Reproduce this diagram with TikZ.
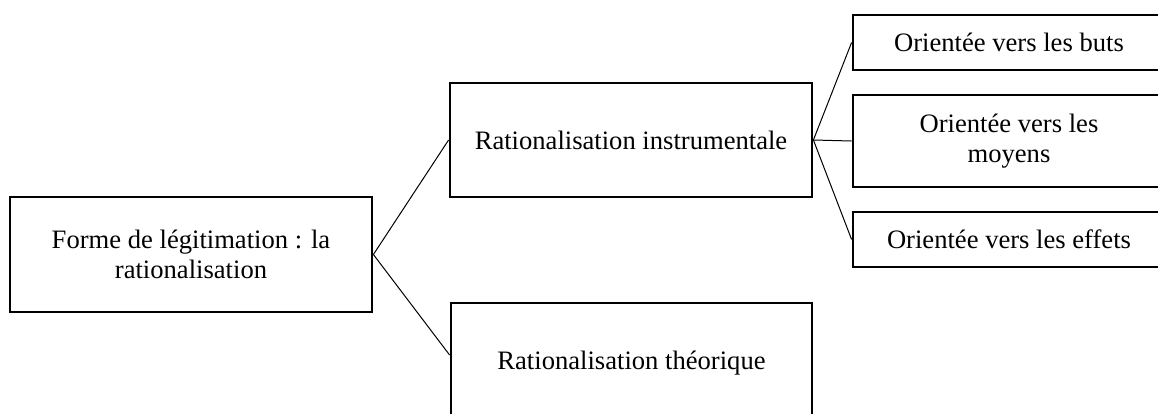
\documentclass[tikz,border=0pt]{standalone}
\usepackage{fontspec}
\setmainfont{Liberation Serif}
\usepackage{tikz}

\tikzset{
  bloc/.style={draw,line width=1.4pt,rectangle,align=center,inner sep=0pt,
    font=\fontsize{13.3}{15}\selectfont},
  lien/.style={line width=0.5pt}
}

\begin{document}
\begin{tikzpicture}[x=0.5pt,y=-0.5pt]
\useasboundingbox (0,0) rectangle (1158,413);
\clip (0,0) rectangle (1158,413);

\node[bloc,minimum width=181pt,minimum height=57.5pt] (forme) at (191,254.5) {Forme de légitimation : la\\rationalisation};

\node[bloc,minimum width=181pt,minimum height=57pt] (instr) at (631,140) {Rationalisation instrumentale};
\node[bloc,minimum width=180.5pt,minimum height=60pt] (theo) at (631.5,363) {Rationalisation théorique};

\node[bloc,minimum width=156pt,minimum height=27.5pt] (buts) at (1009,42.5) {Orientée vers les buts};
\node[bloc,minimum width=156pt,minimum height=46pt] (moyens) at (1009,141) {Orientée vers les\\moyens};
\node[bloc,minimum width=156pt,minimum height=27.5pt] (effets) at (1009,239.5) {Orientée vers les effets};

\draw[lien] (forme.east) -- (instr.west);
\draw[lien] (forme.east) -- ([yshift=4pt]theo.west);

\draw[lien] (instr.east) -- (buts.west);
\draw[lien] (instr.east) -- (moyens.west);
\draw[lien] (instr.east) -- (effets.west);
\end{tikzpicture}
\end{document}
